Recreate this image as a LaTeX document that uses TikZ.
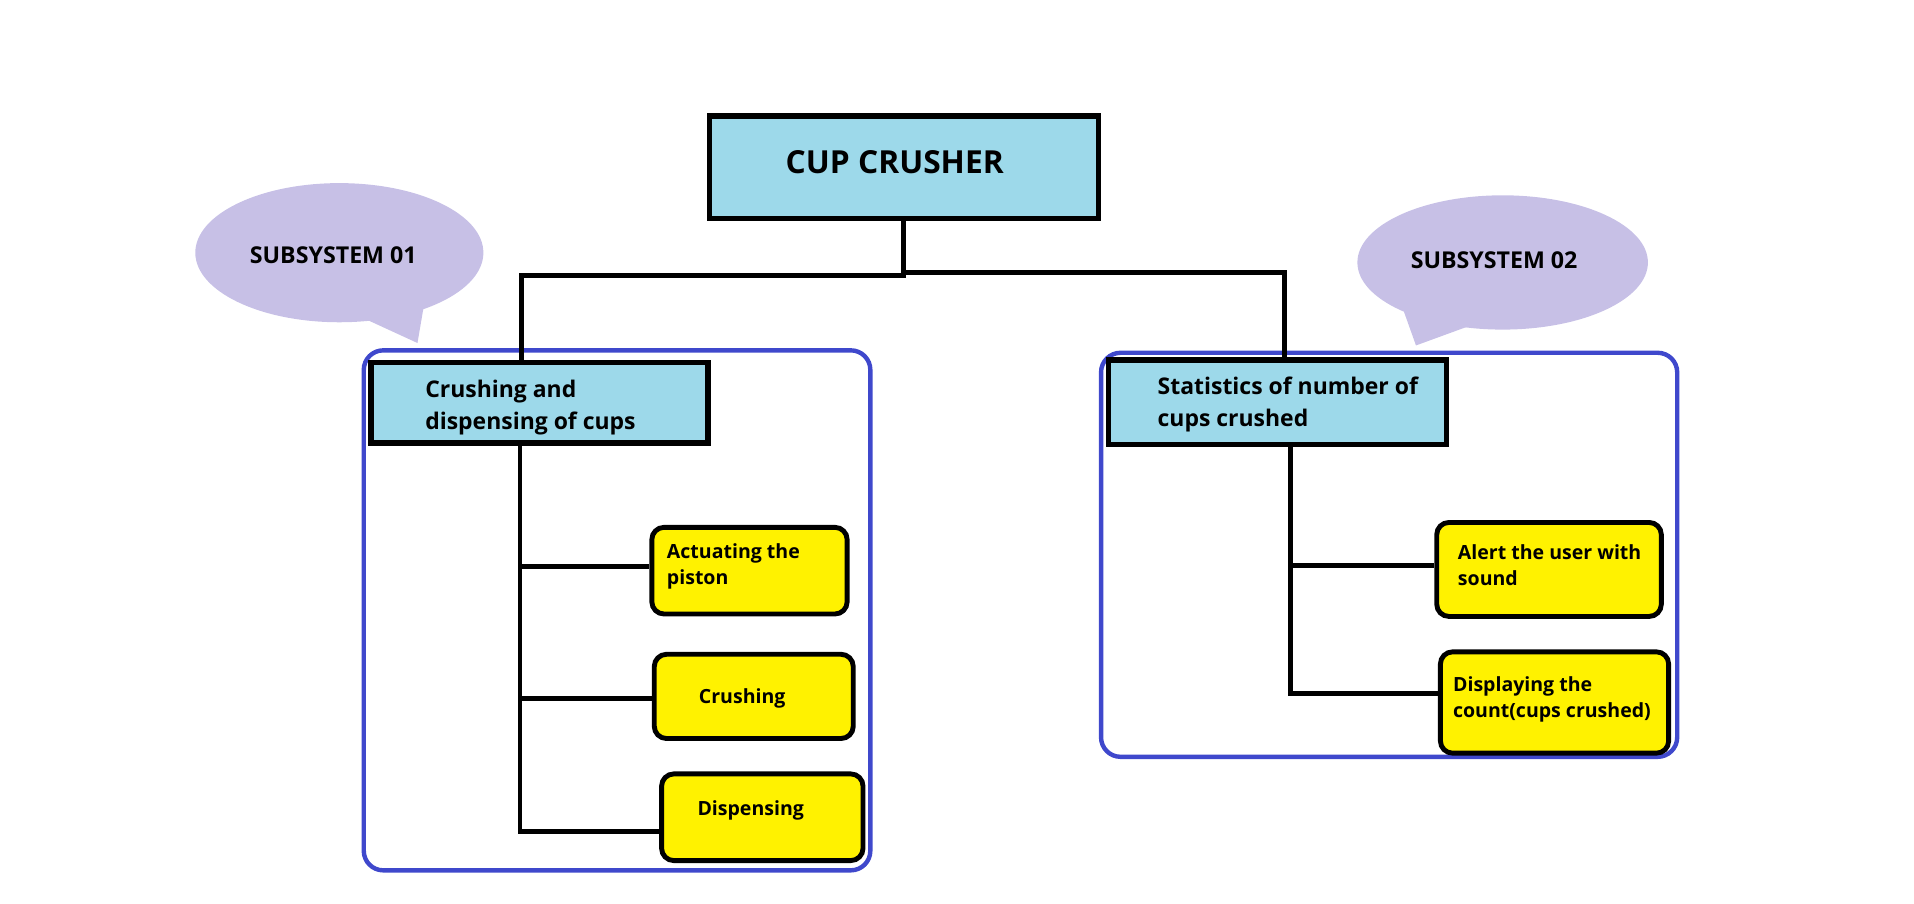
\documentclass[tikz,border=0pt]{standalone}
\usepackage{fontspec}
\setmainfont{Open Sans}
\usetikzlibrary{positioning}
\definecolor{lblue}{HTML}{9DD9EA}
\definecolor{lav}{HTML}{C7C0E6}
\definecolor{ylw}{HTML}{FFF200}
\definecolor{fblue}{HTML}{3F48CC}
\tikzset{
  bluebox/.style={draw=black, line width=2.2pt, fill=lblue, inner sep=0pt},
  ybox/.style={draw=black, line width=2pt, fill=ylw, rounded corners=5pt, inner sep=0pt},
  frm/.style={draw=fblue, line width=1.8pt, rounded corners=8pt, inner sep=0pt},
  conn/.style={draw=black, line width=2pt},
  bubble/.style={fill=lav, draw=none},
  btxt/.style={font=\bfseries\fontsize{9.4}{13}\selectfont, align=left, inner sep=0pt, anchor=west},
  ytxt/.style={font=\bfseries\fontsize{8}{11}\selectfont, align=left, inner sep=0pt, anchor=west},
  stxt/.style={font=\bfseries\fontsize{9.5}{11}\selectfont, inner sep=0pt},
}
\begin{document}
\begin{tikzpicture}[x=0.5pt,y=-0.5pt]
\useasboundingbox (0,0) rectangle (1568,740);
% frames
\node[frm, minimum width=207.5pt, minimum height=213pt] (frameL) at (505.5,500) {};
\node[frm, minimum width=236pt, minimum height=165.5pt] (frameR) at (1138,454.5) {};
% speech bubbles
\fill[bubble] (278,207) ellipse [x radius=118, y radius=57];
\fill[bubble] (292,258) -- (342,281) -- (348,246) -- cycle;
\node[stxt] (sub1) at (273,209) {SUBSYSTEM 01};
\fill[bubble] (1231,215) ellipse [x radius=119, y radius=55];
\fill[bubble] (1150,255) -- (1160,283) -- (1212,264) -- cycle;
\node[stxt] (sub2) at (1224,213) {SUBSYSTEM 02};
% top box
\node[bluebox, minimum width=159.5pt, minimum height=42pt] (cup) at (740.5,137) {};
\node[font=\bfseries\fontsize{13}{15}\selectfont, inner sep=0pt] (cuptxt) at (733,133) {CUP CRUSHER};
% second level
\node[bluebox, minimum width=138pt, minimum height=33pt] (cd) at (442,330) {};
\node[btxt] (cdtxt) at (348,334) {Crushing and\\dispensing of cups};
\node[bluebox, minimum width=138.5pt, minimum height=34.5pt] (st) at (1046.5,329.5) {};
\node[btxt] (sttxt) at (948,331.5) {Statistics of number of\\cups crushed};
% leaves left
\node[ybox, minimum width=80pt, minimum height=35.5pt] (act) at (614,467.5) {};
\node[ytxt] (acttxt) at (546,464) {Actuating the\\piston};
\node[ybox, minimum width=81.5pt, minimum height=34.5pt] (cru) at (617.5,570.5) {};
\node[ytxt, anchor=center] (crutxt) at (608,572) {Crushing};
\node[ybox, minimum width=82.5pt, minimum height=35.5pt] (dis) at (624.5,669.5) {};
\node[ytxt, anchor=center] (distxt) at (615,664) {Dispensing};
% leaves right
\node[ybox, minimum width=92pt, minimum height=38.5pt] (alt) at (1269,466.5) {};
\node[ytxt] (alttxt) at (1194,463) {Alert the user with\\sound};
\node[ybox, minimum width=93.5pt, minimum height=41.5pt] (dsp) at (1273.5,575.5) {};
\node[ytxt] (dsptxt) at (1190,573) {Displaying the\\count(cups crushed)};
% connectors
\coordinate (tl) at (427,226);
\coordinate (tr) at (1052,223);
\draw[conn] (cup.south) |- (tl) -- (tl |- cd.north);
\draw[conn] (cup.south |- tr) -- (tr) -- (tr |- st.north);
\coordinate (jL) at (426,681);
\draw[conn] (cd.south -| jL) -- (jL) -- (jL -| dis.west);
\draw[conn] (426,464) coordinate (b1) -- (b1 -| act.west);
\draw[conn] (426,572) coordinate (b2) -- (b2 -| cru.west);
\coordinate (jR) at (1057,568);
\draw[conn] (st.south -| jR) -- (jR) -- (jR -| dsp.west);
\draw[conn] (1057,463) coordinate (b3) -- (b3 -| alt.west);
\end{tikzpicture}
\end{document}
